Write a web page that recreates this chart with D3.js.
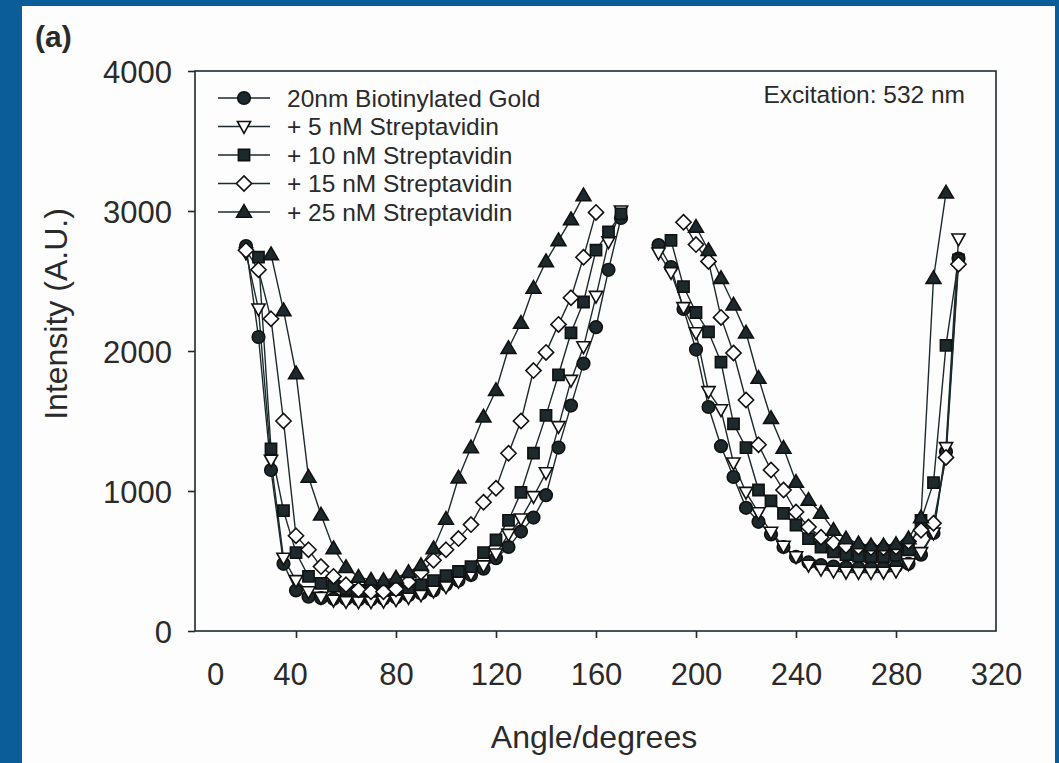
<!DOCTYPE html>
<html>
<head>
<meta charset="utf-8">
<script src="https://cdn.jsdelivr.net/npm/d3@7/dist/d3.min.js"></script>
<style>
  html, body { margin: 0; padding: 0; background: #0a5d98; }
  svg { display: block; }
  text { font-family: "Liberation Sans", Arial, Helvetica, sans-serif; fill: #2a2a2a; }
</style>
</head>
<body>
<svg id="chart" width="1059" height="763"></svg>
<script>
// ---------------- DATA ----------------
const leftAngles  = [20,25,30,35,40,45,50,55,60,65,70,75,80,85,90,95,100,105,110,115,120,125,130,135,140,145,150,155,160,165,170];
const rightAngles = [185,190,195,200,205,210,215,220,225,230,235,240,245,250,255,260,265,270,275,280,285,290,295,300,305];

const seriesNames = ["20nm Biotinylated Gold", "+ 5 nM Streptavidin", "+ 10 nM Streptavidin", "+ 15 nM Streptavidin", "+ 25 nM Streptavidin"];

const goldLeft   = [2750,2100,1150,480,290,245,235,230,228,225,225,230,240,255,270,290,330,360,400,445,520,600,710,810,970,1310,1610,1910,2170,2580,2950];
const sa5Left    = [2700,2300,1220,520,360,280,240,220,210,208,208,212,222,238,258,285,315,355,405,465,550,690,800,960,1130,1460,1790,2030,2390,2780,3000];
const sa10Left   = [null,2670,1300,860,560,390,340,320,300,290,288,290,298,310,330,360,395,425,460,560,650,790,990,1270,1540,1830,2130,2350,2720,2850,2980];
const sa15Left   = [2720,2580,2230,1500,680,580,460,390,330,295,280,280,300,350,420,505,580,660,760,920,1020,1270,1500,1860,1990,2190,2380,2670,2990,null,null];
const sa25Left   = [null,null,2690,2290,1840,1100,830,590,455,385,365,362,380,420,470,590,800,1095,1310,1530,1720,2020,2200,2450,2640,2790,2940,3110,null,null,null];

const goldRight  = [2757,2600,2300,2010,1600,1320,1100,880,780,690,600,530,490,470,460,455,450,450,452,460,480,545,700,1280,2660];
const sa5Right   = [2700,2560,2310,2130,1710,1580,1200,990,845,705,605,530,470,440,428,420,418,418,420,428,480,560,700,1310,2800];
const sa10Right  = [null,2790,2460,2275,2136,1921,1480,1310,1007,930,840,757,660,600,565,545,535,530,530,540,580,790,1060,2040,2650];
const sa15Right  = [null,null,2920,2760,2640,2240,1986,1650,1330,1150,1007,850,743,670,630,610,600,595,595,600,640,720,770,1240,2620];
const sa25Right  = [null,null,null,2886,2720,2520,2330,2130,1807,1520,1307,1064,936,843,721,660,625,610,610,620,660,810,2520,3130,null];

const xTicks = [0,40,80,120,160,200,240,280,320];
const yTicks = [0,1000,2000,3000,4000];

// ---------------- STYLE / LAYOUT ----------------
const W = 1059, H = 763;
const plot = {left: 195, right: 996, top: 71, bottom: 631};
const ink = "#1c2a2e";

const svg = d3.select("#chart");
// white panel inside blue frame
svg.append("rect").attr("x", 22).attr("y", 6).attr("width", 1033).attr("height", H - 6).attr("fill", "#fdfdfd");

const x = d3.scaleLinear().domain([0, 320]).range([plot.left + 1, plot.right]);
const y = d3.scaleLinear().domain([0, 4000]).range([plot.bottom, plot.top]);

// marker shapes
const shapes = [
  {path: () => d3.path(), fill: ink, kind: "circle"},
  {fill: "#ffffff", kind: "tridown"},
  {fill: ink, kind: "square"},
  {fill: "#ffffff", kind: "diamond"},
  {fill: ink, kind: "triup"}
];
function shapePath(kind) {
  switch (kind) {
    case "circle": { const r = 6.3; return `M${r},0A${r},${r} 0 1,1 ${-r},0A${r},${r} 0 1,1 ${r},0Z`; }
    case "tridown": return "M-6.6,-5L6.6,-5L0,6.8Z";
    case "square": return "M-5.6,-5.6L5.6,-5.6L5.6,5.6L-5.6,5.6Z";
    case "diamond": return "M0,-7.6L7.6,0L0,7.6L-7.6,0Z";
    case "triup": return "M0,-7.4L7.4,5.2L-7.4,5.2Z";
  }
}

const series = [
  {left: goldLeft, right: goldRight},
  {left: sa5Left, right: sa5Right},
  {left: sa10Left, right: sa10Right},
  {left: sa15Left, right: sa15Right},
  {left: sa25Left, right: sa25Right}
];

// frame
svg.append("rect")
  .attr("x", plot.left).attr("y", plot.top)
  .attr("width", plot.right - plot.left).attr("height", plot.bottom - plot.top)
  .attr("fill", "none").attr("stroke", ink).attr("stroke-width", 1.6);

// axes
const yAxis = d3.axisLeft(y).tickValues(yTicks).tickSize(7).tickPadding(16).tickFormat(d3.format("d"));
const gy = svg.append("g").attr("transform", `translate(${plot.left},0)`).call(yAxis);
gy.select(".domain").remove();
gy.selectAll(".tick line").attr("stroke", ink).attr("stroke-width", 1.6);
gy.selectAll(".tick text").attr("font-size", 31).attr("fill", "#2a2a2a")
  .style("font-family", "'Liberation Sans', Arial, sans-serif").attr("dy", "0.36em");

const labelNudge = {0: 19, 40: -6};
const xAxis = d3.axisBottom(x).tickValues(xTicks).tickSize(7).tickPadding(25).tickFormat(d3.format("d"));
const gx = svg.append("g").attr("transform", `translate(0,${plot.bottom})`).call(xAxis);
gx.select(".domain").remove();
gx.selectAll(".tick line").attr("stroke", ink).attr("stroke-width", 1.6)
  .attr("display", d => (d === 0 || d === 320) ? "none" : null);
gx.selectAll(".tick text").attr("font-size", 31).attr("fill", "#2a2a2a")
  .style("font-family", "'Liberation Sans', Arial, sans-serif")
  .attr("dx", d => labelNudge[d] || 0);

// axis titles
svg.append("text").attr("transform", "translate(67,314) rotate(-90)")
  .attr("text-anchor", "middle").attr("font-size", 32).text("Intensity (A.U.)");
svg.append("text").attr("x", 594).attr("y", 748)
  .attr("text-anchor", "middle").attr("font-size", 32).text("Angle/degrees");

// panel label
svg.append("text").attr("x", 35).attr("y", 47).attr("font-size", 30).attr("font-weight", "bold")
  .attr("fill", "#1a1a1a").text("(a)");

// annotation
svg.append("text").attr("x", 965).attr("y", 103).attr("text-anchor", "end")
  .attr("font-size", 24.5).text("Excitation: 532 nm");

// lines + markers
const line = d3.line().defined(d => d.v != null).x(d => x(d.a)).y(d => y(d.v));
const g = svg.append("g");
series.forEach((s, i) => {
  const branches = [
    leftAngles.map((a, k) => ({a, v: s.left[k]})),
    rightAngles.map((a, k) => ({a, v: s.right[k]}))
  ];
  branches.forEach(b => {
    g.append("path").datum(b).attr("d", line)
      .attr("fill", "none").attr("stroke", ink).attr("stroke-width", 1.4);
  });
});
series.forEach((s, i) => {
  const pts = leftAngles.map((a, k) => ({a, v: s.left[k]}))
    .concat(rightAngles.map((a, k) => ({a, v: s.right[k]})))
    .filter(d => d.v != null);
  g.selectAll(null).data(pts).enter().append("path")
    .attr("transform", d => `translate(${x(d.a)},${y(d.v)})`)
    .attr("d", shapePath(shapes[i].kind))
    .attr("fill", shapes[i].fill).attr("stroke", "#111").attr("stroke-width", 1.6);
});

// legend
const legend = svg.append("g");
const rowY = d3.scaleLinear().domain([0, 4]).range([98, 212]);
seriesNames.forEach((name, i) => {
  const yy = rowY(i);
  legend.append("line").attr("x1", 218).attr("x2", 270).attr("y1", yy).attr("y2", yy)
    .attr("stroke", ink).attr("stroke-width", 1.6);
  legend.append("path").attr("transform", `translate(244,${yy})`).attr("d", shapePath(shapes[i].kind))
    .attr("fill", shapes[i].fill).attr("stroke", "#111").attr("stroke-width", 1.6);
  legend.append("text").attr("x", 287).attr("y", yy).attr("dy", "0.36em")
    .attr("font-size", 24.5).text(name);
});
</script>
</body>
</html>
